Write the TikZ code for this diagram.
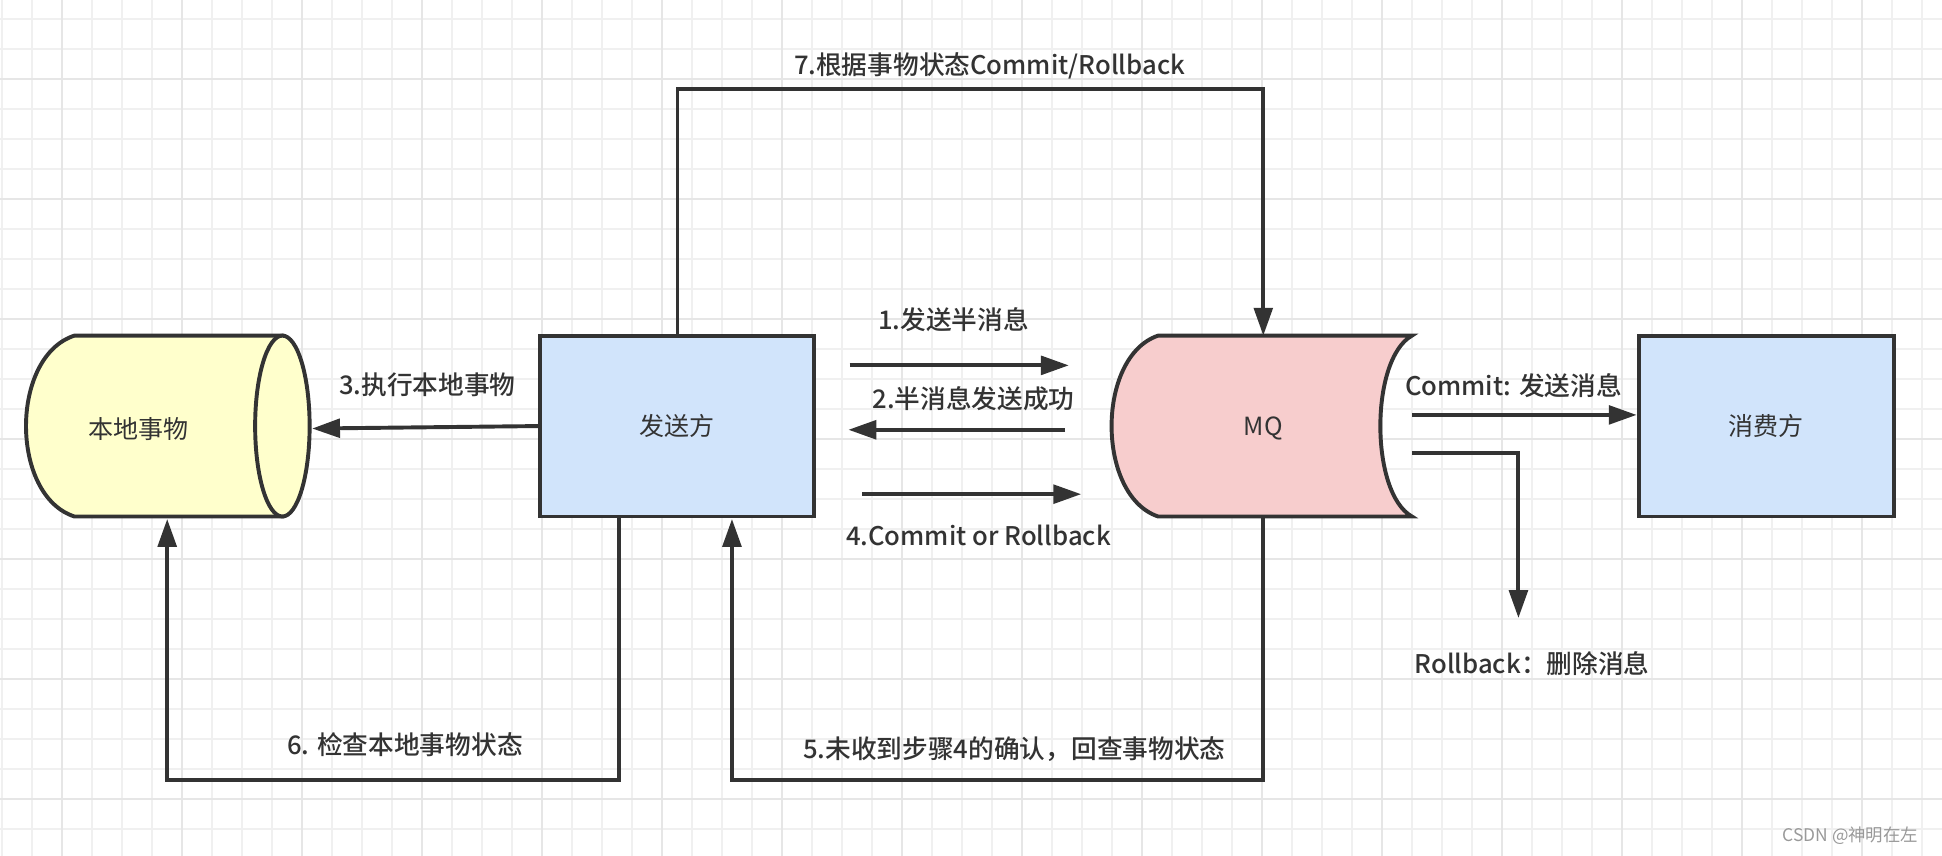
\documentclass[tikz,border=0pt]{standalone}
\usepackage{fontspec}
\setmainfont{Noto Sans CJK SC}[BoldFont={Noto Sans CJK SC Medium}]
\usetikzlibrary{arrows.meta}
\definecolor{ink}{HTML}{333333}
\definecolor{gridc}{HTML}{F0F0F0}
\definecolor{gridm}{HTML}{E6E6E6}
\definecolor{bluef}{HTML}{D1E4FB}
\definecolor{yelf}{HTML}{FFFFCC}
\definecolor{pinkf}{HTML}{F7CDCD}
\begin{document}
\begin{tikzpicture}[x=0.02cm,y=-0.02cm,
  box/.style={draw=ink,line width=1.8pt,fill=bluef,minimum width=4.42cm,minimum height=2.92cm,inner sep=0,font=\fontsize{11.5}{13}\selectfont,text=ink},
  shp/.style={draw=ink,line width=1.8pt},
  arr/.style={draw=ink,line width=1.8pt,-{Triangle[length=0.45cm,width=0.3cm]}},
  lab/.style={font=\bfseries\fontsize{11.8}{13}\selectfont,text=ink,inner sep=1pt}]
\useasboundingbox (0,0) rectangle (1568,691);
\fill[white] (0,0) rectangle (1568,691);
\foreach \i in {0,...,70}{
  \pgfmathsetmacro\xx{\i*24.22-22.5}
  \draw[gridc,line width=0.8pt] (\xx,0) -- (\xx,691);
  \pgfmathsetmacro\yy{\i*24.22-9}
  \draw[gridc,line width=0.8pt] (0,\yy) -- (1568,\yy);
}
\foreach \i in {0,...,17}{
  \pgfmathsetmacro\xx{\i*96.9+50}
  \draw[gridm,line width=0.8pt] (\xx,0) -- (\xx,691);
  \pgfmathsetmacro\yy{\i*96.9+63.6}
  \draw[gridm,line width=0.8pt] (0,\yy) -- (1568,\yy);
}
\draw[shp,fill=yelf] (60,271) -- (228,271) -- (228,417) -- (60,417) .. controls (8,400) and (8,288) .. (60,271) -- cycle;
\draw[shp,fill=yelf] (228,344) ellipse [x radius=22,y radius=73];
\node[font=\fontsize{11.5}{13}\selectfont,text=ink] (local) at (112,346) {本地事物};
\coordinate (localR) at (252,346);
\coordinate (localB) at (135,419);
\node[box] (send) at (546.5,344) {发送方};
\draw[shp,fill=pinkf] (935,271) -- (1140,271) .. controls (1106,290) and (1106,398) .. (1140,417) -- (935,417) .. controls (885,400) and (885,288) .. (935,271) -- cycle;
\node[font=\fontsize{11.5}{13}\selectfont,text=ink] (mq) at (1020,346) {MQ};
\node[box,minimum width=4.12cm] (cons) at (1426,344) {消费方};
\draw[arr] (send.west) -- (localR);
\node[lab] at (345,311) {3.执行本地事物};
\coordinate (a1s) at (686,295); \coordinate (a1e) at (863,295);
\draw[arr] (a1s) -- (a1e);
\node[lab] at (770,258) {1.发送半消息};
\coordinate (a2s) at (860,347); \coordinate (a2e) at (685,347);
\draw[arr] (a2s) -- (a2e);
\node[lab] at (786,322) {2.半消息发送成功};
\coordinate (a4s) at (696,399); \coordinate (a4e) at (873,399);
\draw[arr] (a4s) -- (a4e);
\node[lab] at (790,432) {4.Commit or Rollback};
\coordinate (mqT) at (1020,271);
\coordinate (mqB) at (1020,417);
\coordinate (sT) at (547,271);
\coordinate (sB1) at (500,417);
\coordinate (sB2) at (591,419);
\draw[arr] (sT) |- (800,72) -| (mqT);
\node[lab] at (799,53) {7.根据事物状态Commit/Rollback};
\draw[arr] (sB1) |- (300,630) -| (localB);
\node[lab] at (327,601) {6. 检查本地事物状态};
\draw[arr] (mqB) |- (800,630) -| (sB2);
\node[lab] at (819,605) {5.未收到步骤4的确认，回查事物状态};
\coordinate (mqR1) at (1140,335);
\draw[arr] (mqR1) -- (cons.west |- mqR1);
\node[lab] at (1222,311) {Commit: 发送消息};
\coordinate (mqR2) at (1140,366);
\coordinate (del) at (1226,499);
\draw[arr] (mqR2) -| (del);
\node[lab] at (1237,536) {Rollback：删除消息};
\node[font=\fontsize{8}{9}\selectfont,text=gray!80] (wm) at (1494,675) {CSDN @神明在左};
\end{tikzpicture}
\end{document}
